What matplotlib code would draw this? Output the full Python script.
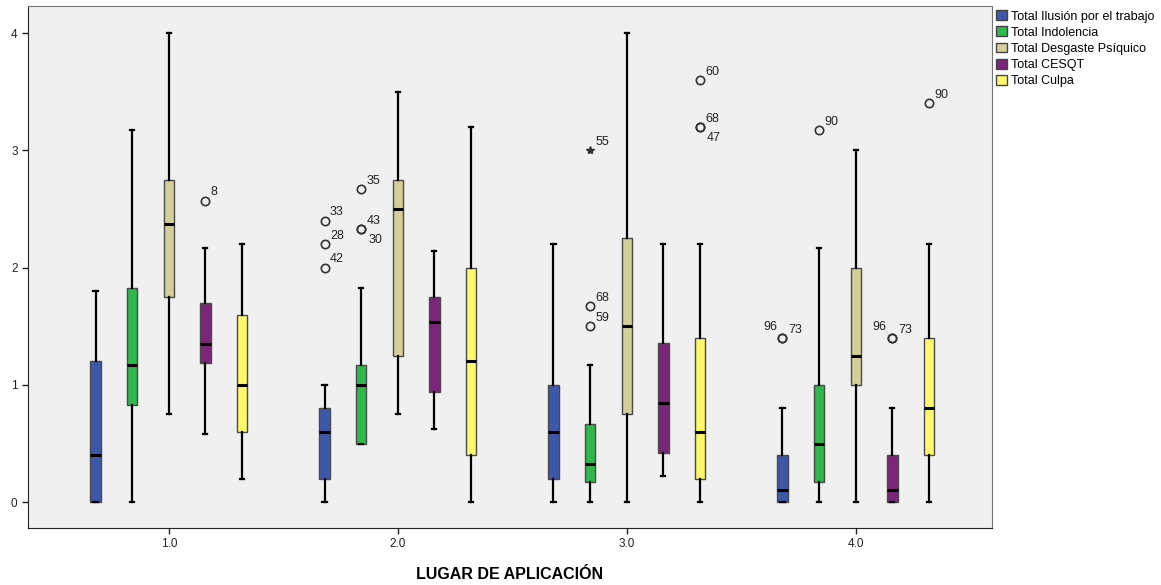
import matplotlib

matplotlib.use("Agg")
import matplotlib.pyplot as plt
from matplotlib.patches import Patch

plt.rcParams["font.family"] = ["Liberation Sans", "DejaVu Sans"]

# --- datos ---
groups = [1.0, 2.0, 3.0, 4.0]
series = ["Total Ilusión por el trabajo", "Total Indolencia", "Total Desgaste Psíquico",
          "Total CESQT", "Total Culpa"]
colors = ["#3d58ab", "#2fb84b", "#d4cf98", "#7b267a", "#fdf86c"]

# (bigote inf, Q1, mediana, Q3, bigote sup) por grupo
ilusion = [(0, 0, 0.4, 1.2, 1.8), (0, 0.2, 0.6, 0.8, 1.0), (0, 0.2, 0.6, 1.0, 2.2), (0, 0, 0.1, 0.4, 0.8)]
indolencia = [(0, 0.83, 1.17, 1.83, 3.17), (0.5, 0.5, 1.0, 1.17, 1.83),
              (0, 0.17, 0.33, 0.67, 1.17), (0, 0.17, 0.5, 1.0, 2.17)]
desgaste = [(0.75, 1.75, 2.375, 2.75, 4.0), (0.75, 1.25, 2.5, 2.75, 3.5),
            (0, 0.75, 1.5, 2.25, 4.0), (0, 1.0, 1.25, 2.0, 3.0)]
cesqt = [(0.58, 1.19, 1.35, 1.7, 2.17), (0.62, 0.94, 1.54, 1.75, 2.14),
         (0.22, 0.42, 0.85, 1.36, 2.2), (0, 0, 0.1, 0.4, 0.8)]
culpa = [(0.2, 0.6, 1.0, 1.6, 2.2), (0, 0.4, 1.2, 2.0, 3.2), (0, 0.2, 0.6, 1.4, 2.2), (0, 0.4, 0.8, 1.4, 2.2)]
all_stats = [ilusion, indolencia, desgaste, cesqt, culpa]

# atípicos: grupo (índice), serie (índice), valor, etiqueta
out_group = [0, 1, 1, 1, 1, 1, 1, 2, 2, 2, 2, 2, 2, 3, 3, 3, 3, 3, 3]
out_series = [3, 0, 0, 0, 1, 1, 1, 1, 1, 1, 4, 4, 4, 0, 0, 1, 3, 3, 4]
out_value = [2.57, 2.4, 2.2, 2.0, 2.67, 2.33, 2.33, 3.0, 1.67, 1.5, 3.6, 3.2, 3.2,
             1.4, 1.4, 3.17, 1.4, 1.4, 3.4]
out_label = ["8", "33", "28", "42", "35", "43", "30", "55", "68", "59", "60", "68", "47",
             "96", "73", "90", "96", "73", "90"]
out_extreme = [False] * 7 + [True] + [False] * 11
# posición de la etiqueta: "ur" arriba-dcha, "lr" abajo-dcha, "ul" arriba-izq
out_pos = ["ur", "ur", "ur", "ur", "ur", "ur", "lr", "ur", "ur", "ur", "ur", "ur", "lr",
           "ul", "ur", "ur", "ul", "ur", "ur"]

offsets = [-0.32, -0.16, 0.0, 0.16, 0.32]
label_off = {"ur": ((4, 6), "left"), "lr": ((5, -8), "left"), "ul": ((-4, 8), "right")}

fig = plt.figure(figsize=(11.61, 5.85), dpi=100)
ax = fig.add_axes([0.0241, 0.0974, 0.8303, 0.8923])
ax.set_facecolor("#f0f0f0")

for s, stats in enumerate(all_stats):
    bxp_stats = [dict(whislo=a, q1=b, med=c, q3=d, whishi=e, fliers=[]) for a, b, c, d, e in stats]
    pos = [g + offsets[s] for g in groups]
    ax.bxp(bxp_stats, positions=pos, widths=0.045, patch_artist=True, showfliers=False,
           boxprops=dict(facecolor=colors[s], edgecolor="#4a4a4a", linewidth=1.0),
           medianprops=dict(color="black", linewidth=2.2),
           whiskerprops=dict(color="black", linewidth=1.6),
           capprops=dict(color="black", linewidth=1.6), capwidths=0.018,
           manage_ticks=False)

for g, s, v, lab, ext, p in zip(out_group, out_series, out_value, out_label, out_extreme, out_pos):
    x = groups[g] + offsets[s]
    if ext:
        ax.plot(x, v, marker="*", ms=6, color="#333333", linestyle="none")
    else:
        ax.plot(x, v, marker="o", ms=6, mfc="none", mec="#333333", mew=1.2, linestyle="none")
    (dx, dy), ha = label_off[p]
    ax.annotate(lab, (x, v), xytext=(dx, dy), textcoords="offset points",
                ha=ha, va="center", fontsize=9, color="#222222")

ax.set_xlim(0.385, 4.595)
ax.set_ylim(-0.22, 4.23)
ax.set_xticks(groups)
ax.set_xticklabels(["1.0", "2.0", "3.0", "4.0"])
ax.set_yticks([0, 1, 2, 3, 4])
ax.tick_params(labelsize=8.5, length=4, width=1, colors="#222222")
for side in ("left", "bottom"):
    ax.spines[side].set_color("#222222")
for side in ("top", "right"):
    ax.spines[side].set_color("#777777")
ax.set_xlabel("LUGAR DE APLICACIÓN", fontsize=11.5, fontweight="bold", labelpad=12)

handles = [Patch(facecolor=c, edgecolor="#444444", label=l) for c, l in zip(colors, series)]
ax.legend(handles=handles, loc="upper left", bbox_to_anchor=(1.0, 1.0), frameon=False,
          fontsize=9, handlelength=0.85, handleheight=0.85, handletextpad=0.3,
          labelspacing=0.3, borderaxespad=0.15, borderpad=0.2)

fig.savefig("out.png", dpi=100, facecolor="white")
